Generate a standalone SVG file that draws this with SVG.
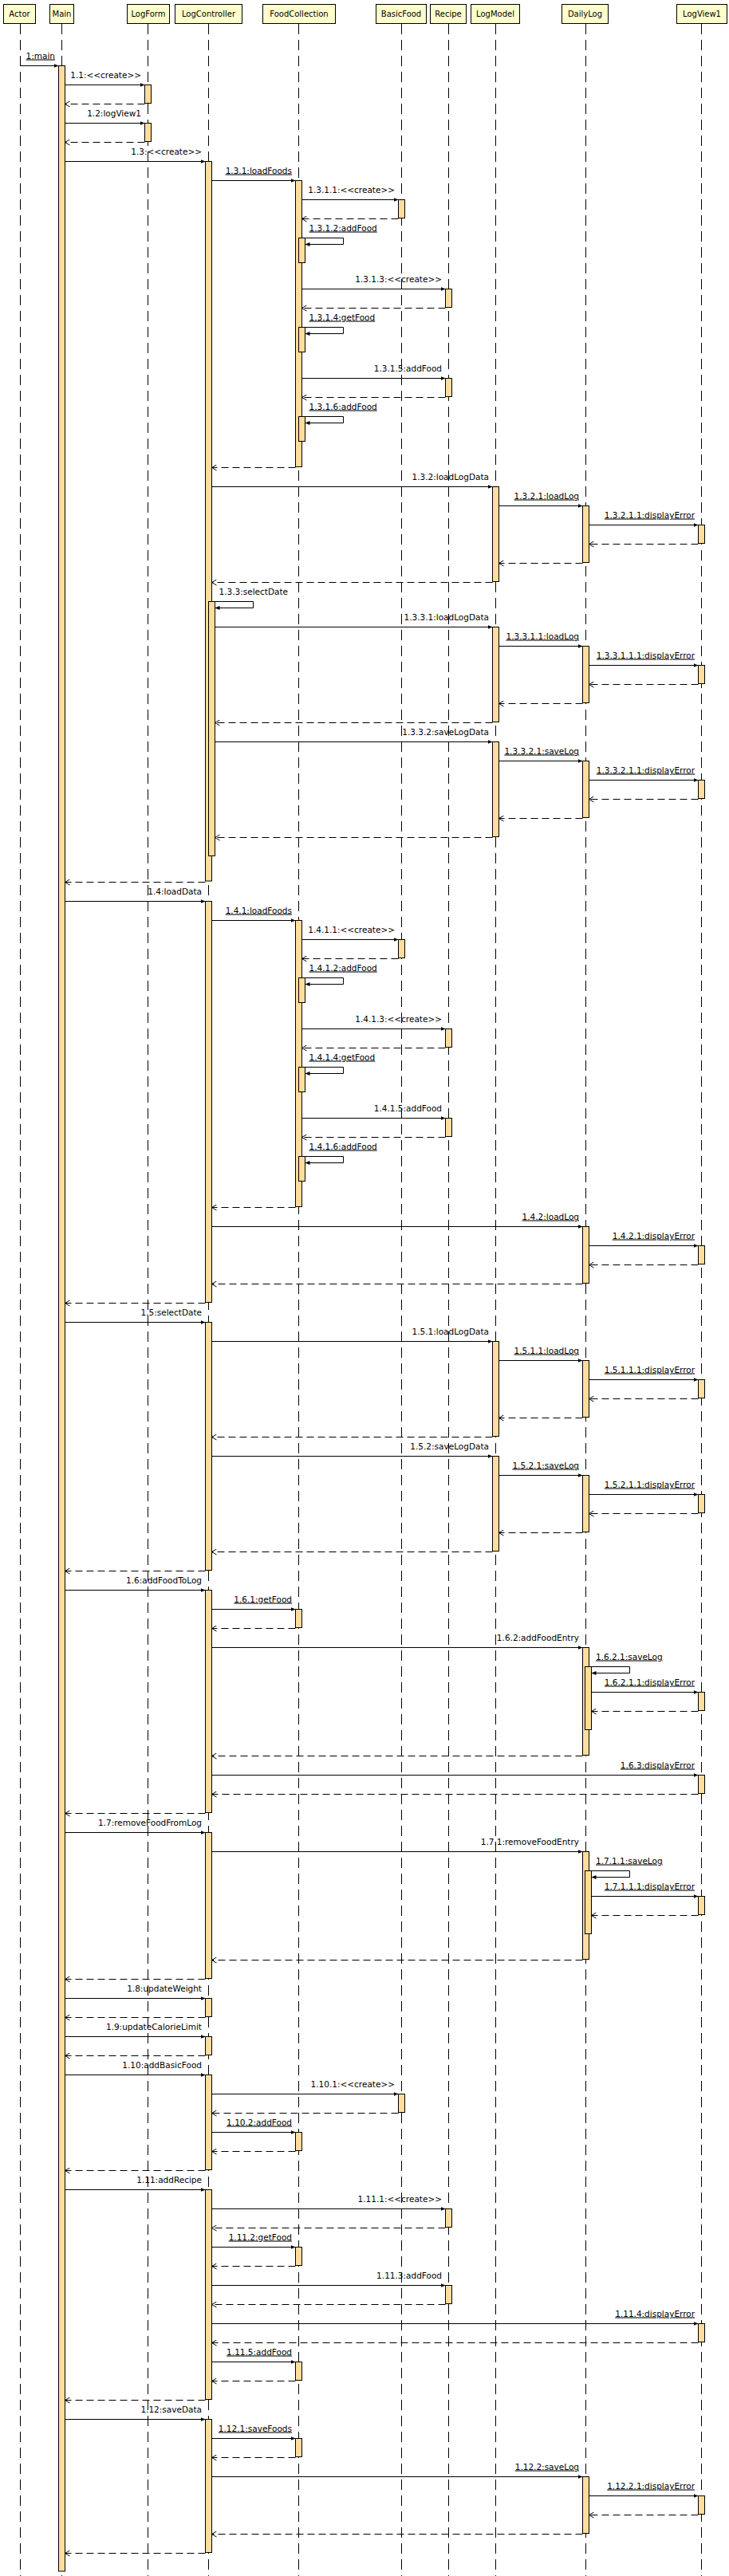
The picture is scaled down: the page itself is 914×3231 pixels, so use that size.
<svg xmlns="http://www.w3.org/2000/svg" width="914" height="3231" viewBox="0 0 914 3231">
<style>
.hdr{fill:#ffffcc;stroke:#000;stroke-width:1}
.ht{font-family:'DejaVu Sans',sans-serif;font-size:10px;text-anchor:middle;fill:#000}
.ll{stroke:#000;stroke-width:1;stroke-dasharray:13 7;fill:none}
.act{fill:#ffdd9c;stroke:#000;stroke-width:1}
.m{stroke:#000;stroke-width:1;fill:none;marker-end:url(#sync)}
.r{stroke:#000;stroke-width:1;fill:none;stroke-dasharray:9 5;marker-end:url(#ret)}
.lb{font-family:'DejaVu Sans',sans-serif;font-size:10.5px;fill:#000;text-anchor:end}
.s{text-anchor:start}
.u{text-decoration:underline}
</style>
<defs>
<marker id="sync" markerUnits="userSpaceOnUse" markerWidth="6" markerHeight="6" viewBox="0 0 6 6" refX="6" refY="3" orient="auto"><path d="M0,0.5 L6,3 L0,5.5 z" fill="#000"/></marker>
<marker id="ret" markerUnits="userSpaceOnUse" markerWidth="8" markerHeight="8" viewBox="0 0 8 8" refX="7" refY="4" orient="auto"><path d="M1,0.5 L7,4 L1,7.5" fill="none" stroke="#000" stroke-width="1"/></marker>
</defs>
<rect width="914" height="3231" fill="#fff"/>

<g id="Actor">
<rect class="hdr" x="4.5" y="5.5" width="40" height="24"/>
<text class="ht" x="24.5" y="21">Actor</text>
<path class="ll" d="M25.5,30 V3231"/>
</g>

<g id="Main">
<rect class="hdr" x="62.5" y="5.5" width="30" height="24"/>
<text class="ht" x="77.5" y="21">Main</text>
<path class="ll" d="M77.5,30 V3231"/>
<rect class="act" x="73.5" y="82.5" width="8" height="3142.5"/>
</g>

<g id="LogForm">
<rect class="hdr" x="159.5" y="5.5" width="53" height="24"/>
<text class="ht" x="186" y="21">LogForm</text>
<path class="ll" d="M185.5,30 V3231"/>
<rect class="act" x="181.5" y="106.5" width="8" height="23"/>
<rect class="act" x="181.5" y="154.5" width="8" height="23"/>
</g>

<g id="LogController">
<rect class="hdr" x="219.5" y="5.5" width="84" height="24"/>
<text class="ht" x="261.5" y="21">LogController</text>
<path class="ll" d="M261.5,30 V3231"/>
<rect class="act" x="257.5" y="202.5" width="8" height="902.5"/>
<rect class="act" x="261.5" y="754.5" width="8" height="319"/>
<rect class="act" x="257.5" y="1130.5" width="8" height="503"/>
<rect class="act" x="257.5" y="1658.5" width="8" height="311"/>
<rect class="act" x="257.5" y="1994.5" width="8" height="279"/>
<rect class="act" x="257.5" y="2298.5" width="8" height="183"/>
<rect class="act" x="257.5" y="2506.5" width="8" height="23"/>
<rect class="act" x="257.5" y="2554.5" width="8" height="23"/>
<rect class="act" x="257.5" y="2602.5" width="8" height="119"/>
<rect class="act" x="257.5" y="2746.5" width="8" height="263"/>
<rect class="act" x="257.5" y="3034.5" width="8" height="167"/>
</g>

<g id="FoodCollection">
<rect class="hdr" x="329.5" y="5.5" width="91" height="24"/>
<text class="ht" x="375" y="21">FoodCollection</text>
<path class="ll" d="M374.5,30 V3231"/>
<rect class="act" x="370.5" y="226.5" width="8" height="359"/>
<rect class="act" x="374.5" y="298.5" width="8" height="31"/>
<rect class="act" x="374.5" y="410.5" width="8" height="31"/>
<rect class="act" x="374.5" y="522.5" width="8" height="31"/>
<rect class="act" x="370.5" y="1154.5" width="8" height="359"/>
<rect class="act" x="374.5" y="1226.5" width="8" height="31"/>
<rect class="act" x="374.5" y="1338.5" width="8" height="31"/>
<rect class="act" x="374.5" y="1450.5" width="8" height="31"/>
<rect class="act" x="370.5" y="2018.5" width="8" height="23"/>
<rect class="act" x="370.5" y="2674.5" width="8" height="23"/>
<rect class="act" x="370.5" y="2818.5" width="8" height="23"/>
<rect class="act" x="370.5" y="2962.5" width="8" height="23"/>
<rect class="act" x="370.5" y="3058.5" width="8" height="23"/>
</g>

<g id="BasicFood">
<rect class="hdr" x="471.5" y="5.5" width="63" height="24"/>
<text class="ht" x="503" y="21">BasicFood</text>
<path class="ll" d="M503.5,30 V3231"/>
<rect class="act" x="499.5" y="250.5" width="8" height="23"/>
<rect class="act" x="499.5" y="1178.5" width="8" height="23"/>
<rect class="act" x="499.5" y="2626.5" width="8" height="23"/>
</g>

<g id="Recipe">
<rect class="hdr" x="539.5" y="5.5" width="45" height="24"/>
<text class="ht" x="562" y="21">Recipe</text>
<path class="ll" d="M562.5,30 V3231"/>
<rect class="act" x="558.5" y="362.5" width="8" height="23"/>
<rect class="act" x="558.5" y="474.5" width="8" height="23"/>
<rect class="act" x="558.5" y="1290.5" width="8" height="23"/>
<rect class="act" x="558.5" y="1402.5" width="8" height="23"/>
<rect class="act" x="558.5" y="2770.5" width="8" height="23"/>
<rect class="act" x="558.5" y="2866.5" width="8" height="23"/>
</g>

<g id="LogModel">
<rect class="hdr" x="590.5" y="5.5" width="61" height="24"/>
<text class="ht" x="621" y="21">LogModel</text>
<path class="ll" d="M621.5,30 V3231"/>
<rect class="act" x="617.5" y="610.5" width="8" height="119"/>
<rect class="act" x="617.5" y="786.5" width="8" height="119"/>
<rect class="act" x="617.5" y="930.5" width="8" height="119"/>
<rect class="act" x="617.5" y="1682.5" width="8" height="119"/>
<rect class="act" x="617.5" y="1826.5" width="8" height="119"/>
</g>

<g id="DailyLog">
<rect class="hdr" x="704.5" y="5.5" width="58" height="24"/>
<text class="ht" x="733.5" y="21">DailyLog</text>
<path class="ll" d="M734.5,30 V3231"/>
<rect class="act" x="730.5" y="634.5" width="8" height="71"/>
<rect class="act" x="730.5" y="810.5" width="8" height="71"/>
<rect class="act" x="730.5" y="954.5" width="8" height="71"/>
<rect class="act" x="730.5" y="1538.5" width="8" height="71"/>
<rect class="act" x="730.5" y="1706.5" width="8" height="71"/>
<rect class="act" x="730.5" y="1850.5" width="8" height="71"/>
<rect class="act" x="730.5" y="2066.5" width="8" height="135"/>
<rect class="act" x="733.5" y="2090.5" width="8" height="79"/>
<rect class="act" x="730.5" y="2322.5" width="8" height="135"/>
<rect class="act" x="733.5" y="2346.5" width="8" height="79"/>
<rect class="act" x="730.5" y="3106.5" width="8" height="71"/>
</g>

<g id="LogView1">
<rect class="hdr" x="848.5" y="5.5" width="63" height="24"/>
<text class="ht" x="880" y="21">LogView1</text>
<path class="ll" d="M879.5,30 V3231"/>
<rect class="act" x="875.5" y="658.5" width="8" height="23"/>
<rect class="act" x="875.5" y="834.5" width="8" height="23"/>
<rect class="act" x="875.5" y="978.5" width="8" height="23"/>
<rect class="act" x="875.5" y="1562.5" width="8" height="23"/>
<rect class="act" x="875.5" y="1730.5" width="8" height="23"/>
<rect class="act" x="875.5" y="1874.5" width="8" height="23"/>
<rect class="act" x="875.5" y="2122.5" width="8" height="23"/>
<rect class="act" x="875.5" y="2226.5" width="8" height="23"/>
<rect class="act" x="875.5" y="2378.5" width="8" height="23"/>
<rect class="act" x="875.5" y="2914.5" width="8" height="23"/>
<rect class="act" x="875.5" y="3130.5" width="8" height="23"/>
</g>

<g id="connectors">
<!-- sync messages -->
<path class="m" d="M25.5,82.5 H73.5"/>
<path class="m" d="M81.5,106.5 H181.5"/>
<path class="m" d="M81.5,154.5 H181.5"/>
<path class="m" d="M81.5,202.5 H257.5"/>
<path class="m" d="M265.5,226.5 H370.5"/>
<path class="m" d="M378.5,250.5 H499.5"/>
<path class="m" d="M382.5,298.5 H430.5 V306.5 H382.5"/>
<path class="m" d="M378.5,362.5 H558.5"/>
<path class="m" d="M382.5,410.5 H430.5 V418.5 H382.5"/>
<path class="m" d="M378.5,474.5 H558.5"/>
<path class="m" d="M382.5,522.5 H430.5 V530.5 H382.5"/>
<path class="m" d="M265.5,610.5 H617.5"/>
<path class="m" d="M625.5,634.5 H730.5"/>
<path class="m" d="M738.5,658.5 H875.5"/>
<path class="m" d="M269.5,754.5 H317.5 V762.5 H269.5"/>
<path class="m" d="M269.5,786.5 H617.5"/>
<path class="m" d="M625.5,810.5 H730.5"/>
<path class="m" d="M738.5,834.5 H875.5"/>
<path class="m" d="M269.5,930.5 H617.5"/>
<path class="m" d="M625.5,954.5 H730.5"/>
<path class="m" d="M738.5,978.5 H875.5"/>
<path class="m" d="M81.5,1130.5 H257.5"/>
<path class="m" d="M265.5,1154.5 H370.5"/>
<path class="m" d="M378.5,1178.5 H499.5"/>
<path class="m" d="M382.5,1226.5 H430.5 V1234.5 H382.5"/>
<path class="m" d="M378.5,1290.5 H558.5"/>
<path class="m" d="M382.5,1338.5 H430.5 V1346.5 H382.5"/>
<path class="m" d="M378.5,1402.5 H558.5"/>
<path class="m" d="M382.5,1450.5 H430.5 V1458.5 H382.5"/>
<path class="m" d="M265.5,1538.5 H730.5"/>
<path class="m" d="M738.5,1562.5 H875.5"/>
<path class="m" d="M81.5,1658.5 H257.5"/>
<path class="m" d="M265.5,1682.5 H617.5"/>
<path class="m" d="M625.5,1706.5 H730.5"/>
<path class="m" d="M738.5,1730.5 H875.5"/>
<path class="m" d="M265.5,1826.5 H617.5"/>
<path class="m" d="M625.5,1850.5 H730.5"/>
<path class="m" d="M738.5,1874.5 H875.5"/>
<path class="m" d="M81.5,1994.5 H257.5"/>
<path class="m" d="M265.5,2018.5 H370.5"/>
<path class="m" d="M265.5,2066.5 H730.5"/>
<path class="m" d="M741.5,2090.5 H789.5 V2098.5 H741.5"/>
<path class="m" d="M741.5,2122.5 H875.5"/>
<path class="m" d="M265.5,2226.5 H875.5"/>
<path class="m" d="M81.5,2298.5 H257.5"/>
<path class="m" d="M265.5,2322.5 H730.5"/>
<path class="m" d="M741.5,2346.5 H789.5 V2354.5 H741.5"/>
<path class="m" d="M741.5,2378.5 H875.5"/>
<path class="m" d="M81.5,2506.5 H257.5"/>
<path class="m" d="M81.5,2554.5 H257.5"/>
<path class="m" d="M81.5,2602.5 H257.5"/>
<path class="m" d="M265.5,2626.5 H499.5"/>
<path class="m" d="M265.5,2674.5 H370.5"/>
<path class="m" d="M81.5,2746.5 H257.5"/>
<path class="m" d="M265.5,2770.5 H558.5"/>
<path class="m" d="M265.5,2818.5 H370.5"/>
<path class="m" d="M265.5,2866.5 H558.5"/>
<path class="m" d="M265.5,2914.5 H875.5"/>
<path class="m" d="M265.5,2962.5 H370.5"/>
<path class="m" d="M81.5,3034.5 H257.5"/>
<path class="m" d="M265.5,3058.5 H370.5"/>
<path class="m" d="M265.5,3106.5 H730.5"/>
<path class="m" d="M738.5,3130.5 H875.5"/>
<!-- returns -->
<path class="r" d="M181.5,130.5 H81.5"/>
<path class="r" d="M181.5,178.5 H81.5"/>
<path class="r" d="M499.5,274.5 H378.5"/>
<path class="r" d="M558.5,386.5 H378.5"/>
<path class="r" d="M558.5,498.5 H378.5"/>
<path class="r" d="M370.5,586.5 H265.5"/>
<path class="r" d="M875.5,682.5 H738.5"/>
<path class="r" d="M730.5,706.5 H625.5"/>
<path class="r" d="M617.5,730.5 H265.5"/>
<path class="r" d="M875.5,858.5 H738.5"/>
<path class="r" d="M730.5,882.5 H625.5"/>
<path class="r" d="M617.5,906.5 H269.5"/>
<path class="r" d="M875.5,1002.5 H738.5"/>
<path class="r" d="M730.5,1026.5 H625.5"/>
<path class="r" d="M617.5,1050.5 H269.5"/>
<path class="r" d="M257.5,1106.5 H81.5"/>
<path class="r" d="M499.5,1202.5 H378.5"/>
<path class="r" d="M558.5,1314.5 H378.5"/>
<path class="r" d="M558.5,1426.5 H378.5"/>
<path class="r" d="M370.5,1514.5 H265.5"/>
<path class="r" d="M875.5,1586.5 H738.5"/>
<path class="r" d="M730.5,1610.5 H265.5"/>
<path class="r" d="M257.5,1634.5 H81.5"/>
<path class="r" d="M875.5,1754.5 H738.5"/>
<path class="r" d="M730.5,1778.5 H625.5"/>
<path class="r" d="M617.5,1802.5 H265.5"/>
<path class="r" d="M875.5,1898.5 H738.5"/>
<path class="r" d="M730.5,1922.5 H625.5"/>
<path class="r" d="M617.5,1946.5 H265.5"/>
<path class="r" d="M257.5,1970.5 H81.5"/>
<path class="r" d="M370.5,2042.5 H265.5"/>
<path class="r" d="M875.5,2146.5 H741.5"/>
<path class="r" d="M730.5,2202.5 H265.5"/>
<path class="r" d="M875.5,2250.5 H265.5"/>
<path class="r" d="M257.5,2274.5 H81.5"/>
<path class="r" d="M875.5,2402.5 H741.5"/>
<path class="r" d="M730.5,2458.5 H265.5"/>
<path class="r" d="M257.5,2482.5 H81.5"/>
<path class="r" d="M257.5,2530.5 H81.5"/>
<path class="r" d="M257.5,2578.5 H81.5"/>
<path class="r" d="M499.5,2650.5 H265.5"/>
<path class="r" d="M370.5,2698.5 H265.5"/>
<path class="r" d="M257.5,2722.5 H81.5"/>
<path class="r" d="M558.5,2794.5 H265.5"/>
<path class="r" d="M370.5,2842.5 H265.5"/>
<path class="r" d="M558.5,2890.5 H265.5"/>
<path class="r" d="M875.5,2938.5 H265.5"/>
<path class="r" d="M370.5,2986.5 H265.5"/>
<path class="r" d="M257.5,3010.5 H81.5"/>
<path class="r" d="M370.5,3082.5 H265.5"/>
<path class="r" d="M875.5,3154.5 H738.5"/>
<path class="r" d="M730.5,3178.5 H265.5"/>
<path class="r" d="M257.5,3202.5 H81.5"/>
<!-- labels -->
<text class="lb u" x="69" y="73.5">1:main</text>
<text class="lb" x="177" y="97.5">1.1:&lt;&lt;create&gt;&gt;</text>
<text class="lb" x="177" y="145.5">1.2:logView1</text>
<text class="lb" x="253" y="193.5">1.3:&lt;&lt;create&gt;&gt;</text>
<text class="lb u" x="366" y="217.5">1.3.1:loadFoods</text>
<text class="lb" x="495" y="241.5">1.3.1.1:&lt;&lt;create&gt;&gt;</text>
<text class="lb s u" x="387.5" y="289.5">1.3.1.2:addFood</text>
<text class="lb" x="554" y="353.5">1.3.1.3:&lt;&lt;create&gt;&gt;</text>
<text class="lb s u" x="387.5" y="401.5">1.3.1.4:getFood</text>
<text class="lb" x="554" y="465.5">1.3.1.5:addFood</text>
<text class="lb s u" x="387.5" y="513.5">1.3.1.6:addFood</text>
<text class="lb" x="613" y="601.5">1.3.2:loadLogData</text>
<text class="lb u" x="726" y="625.5">1.3.2.1:loadLog</text>
<text class="lb u" x="871" y="649.5">1.3.2.1.1:displayError</text>
<text class="lb s" x="274.5" y="745.5">1.3.3:selectDate</text>
<text class="lb" x="613" y="777.5">1.3.3.1:loadLogData</text>
<text class="lb u" x="726" y="801.5">1.3.3.1.1:loadLog</text>
<text class="lb u" x="871" y="825.5">1.3.3.1.1.1:displayError</text>
<text class="lb" x="613" y="921.5">1.3.3.2:saveLogData</text>
<text class="lb u" x="726" y="945.5">1.3.3.2.1:saveLog</text>
<text class="lb u" x="871" y="969.5">1.3.3.2.1.1:displayError</text>
<text class="lb" x="253" y="1121.5">1.4:loadData</text>
<text class="lb u" x="366" y="1145.5">1.4.1:loadFoods</text>
<text class="lb" x="495" y="1169.5">1.4.1.1:&lt;&lt;create&gt;&gt;</text>
<text class="lb s u" x="387.5" y="1217.5">1.4.1.2:addFood</text>
<text class="lb" x="554" y="1281.5">1.4.1.3:&lt;&lt;create&gt;&gt;</text>
<text class="lb s u" x="387.5" y="1329.5">1.4.1.4:getFood</text>
<text class="lb" x="554" y="1393.5">1.4.1.5:addFood</text>
<text class="lb s u" x="387.5" y="1441.5">1.4.1.6:addFood</text>
<text class="lb u" x="726" y="1529.5">1.4.2:loadLog</text>
<text class="lb u" x="871" y="1553.5">1.4.2.1:displayError</text>
<text class="lb" x="253" y="1649.5">1.5:selectDate</text>
<text class="lb" x="613" y="1673.5">1.5.1:loadLogData</text>
<text class="lb u" x="726" y="1697.5">1.5.1.1:loadLog</text>
<text class="lb u" x="871" y="1721.5">1.5.1.1.1:displayError</text>
<text class="lb" x="613" y="1817.5">1.5.2:saveLogData</text>
<text class="lb u" x="726" y="1841.5">1.5.2.1:saveLog</text>
<text class="lb u" x="871" y="1865.5">1.5.2.1.1:displayError</text>
<text class="lb" x="253" y="1985.5">1.6:addFoodToLog</text>
<text class="lb u" x="366" y="2009.5">1.6.1:getFood</text>
<text class="lb" x="726" y="2057.5">1.6.2:addFoodEntry</text>
<text class="lb s u" x="747" y="2081.5">1.6.2.1:saveLog</text>
<text class="lb u" x="871" y="2113.5">1.6.2.1.1:displayError</text>
<text class="lb u" x="871" y="2217.5">1.6.3:displayError</text>
<text class="lb" x="253" y="2289.5">1.7:removeFoodFromLog</text>
<text class="lb" x="726" y="2313.5">1.7.1:removeFoodEntry</text>
<text class="lb s u" x="747" y="2337.5">1.7.1.1:saveLog</text>
<text class="lb u" x="871" y="2369.5">1.7.1.1.1:displayError</text>
<text class="lb" x="253" y="2497.5">1.8:updateWeight</text>
<text class="lb" x="253" y="2545.5">1.9:updateCalorieLimit</text>
<text class="lb" x="253" y="2593.5">1.10:addBasicFood</text>
<text class="lb" x="495" y="2617.5">1.10.1:&lt;&lt;create&gt;&gt;</text>
<text class="lb u" x="366" y="2665.5">1.10.2:addFood</text>
<text class="lb" x="253" y="2737.5">1.11:addRecipe</text>
<text class="lb" x="554" y="2761.5">1.11.1:&lt;&lt;create&gt;&gt;</text>
<text class="lb u" x="366" y="2809.5">1.11.2:getFood</text>
<text class="lb" x="554" y="2857.5">1.11.3:addFood</text>
<text class="lb u" x="871" y="2905.5">1.11.4:displayError</text>
<text class="lb u" x="366" y="2953.5">1.11.5:addFood</text>
<text class="lb" x="253" y="3025.5">1.12:saveData</text>
<text class="lb u" x="366" y="3049.5">1.12.1:saveFoods</text>
<text class="lb u" x="726" y="3097.5">1.12.2:saveLog</text>
<text class="lb u" x="871" y="3121.5">1.12.2.1:displayError</text>
</g>
</svg>
